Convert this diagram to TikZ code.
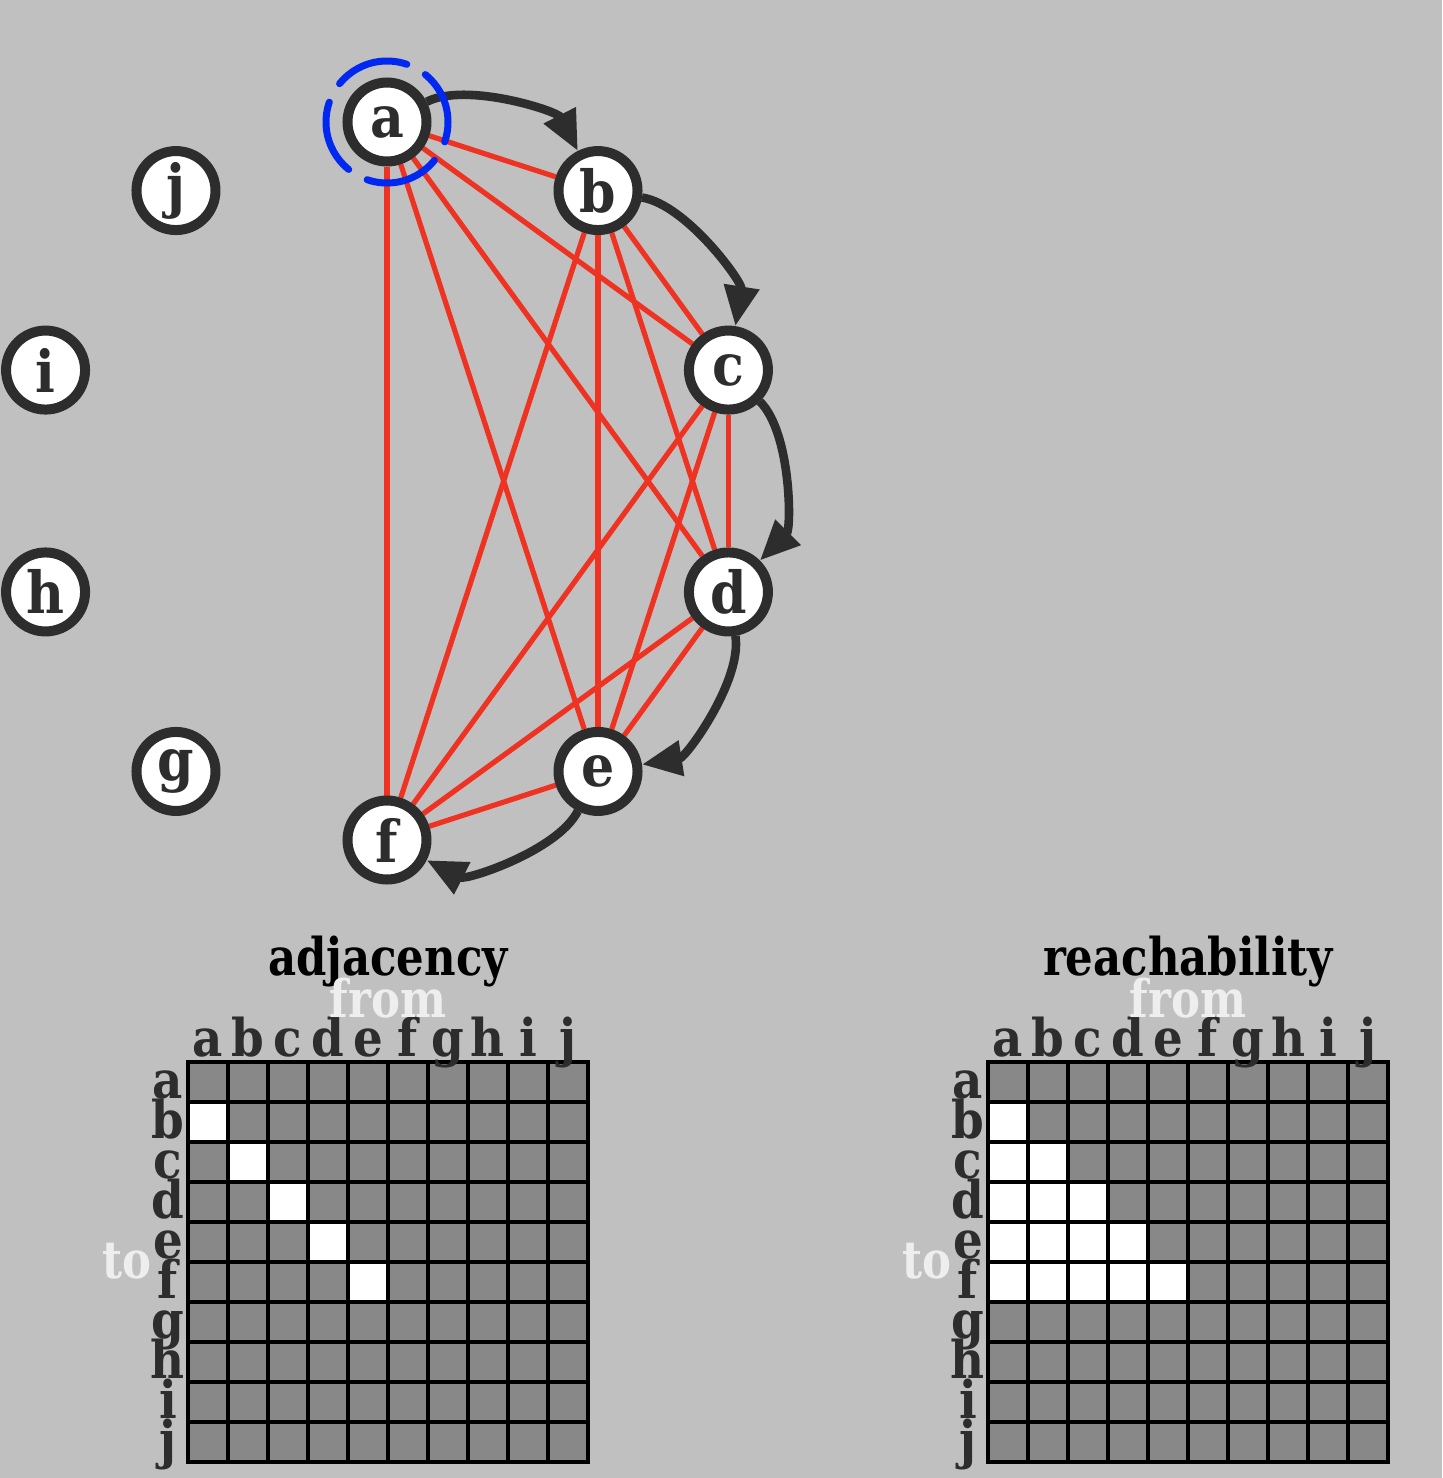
\documentclass[tikz,border=0pt]{standalone}
\usepackage{fontspec}
\setmainfont{DejaVu Serif}[FakeStretch=0.9]
\newfontfamily\titlefont{DejaVu Serif}[FakeStretch=0.835]
\usetikzlibrary{arrows.meta}
\definecolor{bgc}{HTML}{C0C0C0}
\definecolor{ink}{HTML}{2D2D2D}
\definecolor{redge}{HTML}{EE3322}
\definecolor{bluec}{HTML}{0028F0}
\definecolor{cellg}{HTML}{888888}
\definecolor{pale}{HTML}{EEEEEE}
\pgfdeclarelayer{bg}
\pgfdeclarelayer{edges}
\pgfsetlayers{bg,edges,main}
\begin{document}
\begin{tikzpicture}[x=0.5pt,y=0.5pt,
  vertex/.style={circle, draw=ink, fill=white, line width=5pt, minimum size=39.5pt, inner sep=0pt,
    font=\fontsize{29}{29}\selectfont\bfseries, text=ink},
  redline/.style={draw=redge, line width=2.6pt},
  arcline/.style={draw=ink, line width=4.3pt, -{Triangle[length=20pt,width=17pt]}},
  gridline/.style={draw=black, line width=2pt, line cap=rect},
  lbl/.style={font=\fontsize{26}{26}\selectfont\bfseries, text=ink, inner sep=0pt},
  titlel/.style={font=\titlefont\fontsize{26}{26}\selectfont\bfseries, text=black, inner sep=0pt},
  palel/.style={font=\titlefont\fontsize{26}{26}\selectfont\bfseries, text=pale, inner sep=0pt}]
\begin{pgfonlayer}{bg}
\fill[bgc] (0,0) rectangle (1442,-1478);
\end{pgfonlayer}
\useasboundingbox (0,0) rectangle (1442,-1478);
% graph nodes
\foreach \n [count=\k from 0] in {a,b,c,d,e,f,g,h,i,j}
  \node[vertex] (\n) at ({387+359*cos(90-36*\k)}, {-481+359*sin(90-36*\k)}) {\n};
% red edges
\begin{pgfonlayer}{edges}
\foreach \u/\v in {a/b,a/c,a/d,a/e,a/f,b/c,b/d,b/e,b/f,c/d,c/e,c/f,d/e,d/f,e/f}
  \draw[redline] (\u) -- (\v);
\end{pgfonlayer}
% black arcs
\foreach \u/\v in {a/b,b/c,c/d,d/e,e/f}
  \draw[arcline] (\u) to[bend left=45, looseness=0.72] (\v);
% blue dashed ring
\draw[bluec, line width=3.5pt, line cap=round, dash pattern=on 37.3pt off 10.6pt, dash phase=10.1pt]
  (a.center) circle[radius=30.5pt];
% adjacency matrix
\begin{scope}[shift={(188,-1062)}]
  \fill[cellg] (0,0) rectangle (400,-400);
  \foreach \c/\r in {0/1,1/2,2/3,3/4,4/5}
    \fill[white] (40*\c,-40*\r) rectangle ++(40,-40);
  \foreach \i in {0,...,10} {
    \draw[gridline] (40*\i,0) -- (40*\i,-400);
    \draw[gridline] (0,-40*\i) -- (400,-40*\i);
  }
  \foreach \l [count=\i from 0] in {a,b,c,d,e,f,g,h,i,j} {
    \node[lbl, anchor=base] (ac\l) at (40*\i+20, 6) {\l};
    \node[lbl, anchor=base] (ar\l) at (-20, -40*\i-36) {\l};
  }
  \node[titlel, anchor=base] (adjt) at (200, 87) {adjacency};
  \node[palel, anchor=base] (adjf) at (200, 45) {from};
  \node[palel, anchor=base east] (adjto) at (-36, -216) {to};
\end{scope}
% reachability matrix
\begin{scope}[shift={(988,-1062)}]
  \fill[cellg] (0,0) rectangle (400,-400);
  \foreach \r in {1,...,5}
    \foreach \c in {1,...,\r}
      \fill[white] (40*\c-40,-40*\r) rectangle ++(40,-40);
  \foreach \i in {0,...,10} {
    \draw[gridline] (40*\i,0) -- (40*\i,-400);
    \draw[gridline] (0,-40*\i) -- (400,-40*\i);
  }
  \foreach \l [count=\i from 0] in {a,b,c,d,e,f,g,h,i,j} {
    \node[lbl, anchor=base] (rc\l) at (40*\i+20, 6) {\l};
    \node[lbl, anchor=base] (rr\l) at (-20, -40*\i-36) {\l};
  }
  \node[titlel, anchor=base] (reat) at (200, 87) {reachability};
  \node[palel, anchor=base] (reaf) at (200, 45) {from};
  \node[palel, anchor=base east] (reato) at (-36, -216) {to};
\end{scope}
\end{tikzpicture}
\end{document}
